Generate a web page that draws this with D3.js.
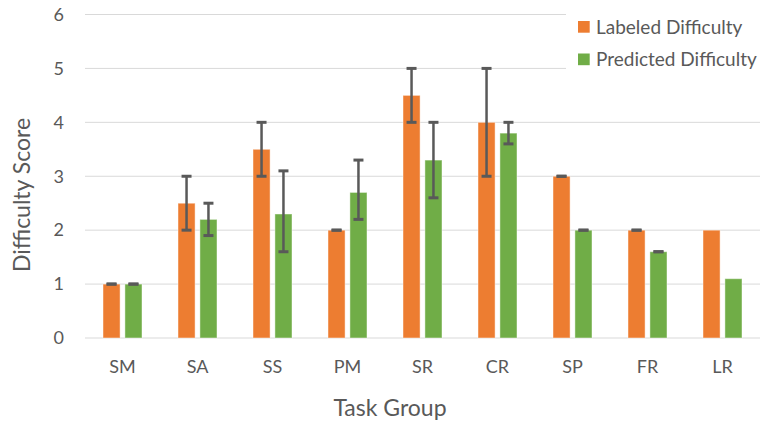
<!DOCTYPE html>
<html lang="en">
<head>
<meta charset="UTF-8">
<title>Difficulty Score by Task Group</title>
<script src="https://d3js.org/d3.v7.min.js"></script>
<style>
  body { margin: 0; background: #fff; }
  text { font-family: Lato, "Open Sans", sans-serif; fill: #595959; }
</style>
</head>
<body>
<svg id="chart" width="767" height="425"></svg>
<script>
const groups = ['SM', 'SA', 'SS', 'PM', 'SR', 'CR', 'SP', 'FR', 'LR'];
const seriesNames = ['Labeled Difficulty', 'Predicted Difficulty'];
const colors = ['#ed7d31', '#70ad47'];
const yTicks = [0, 1, 2, 3, 4, 5, 6];

const labeled = [1, 2.5, 3.5, 2, 4.5, 4, 3, 2, 2];
const labeledLow = [1, 2, 3, 2, 4, 3, 3, 2, null];
const labeledHigh = [1, 3, 4, 2, 5, 5, 3, 2, null];

const predicted = [1, 2.2, 2.3, 2.7, 3.3, 3.8, 2, 1.6, 1.1];
const predictedLow = [1, 1.9, 1.6, 2.2, 2.6, 3.6, 2, 1.6, null];
const predictedHigh = [1, 2.5, 3.1, 3.3, 4.0, 4.0, 2, 1.6, null];

const values = [labeled, predicted];
const lows = [labeledLow, predictedLow];
const highs = [labeledHigh, predictedHigh];

const svg = d3.select('#chart');
const plotLeft = 85, plotRight = 760, plotTop = 14.5, plotBottom = 338;

const x0 = d3.scaleBand().domain(groups).range([plotLeft, plotRight]);
const groupW = 39;
const x1 = d3.scaleBand().domain(seriesNames).range([0, groupW]).paddingInner(0.22);
const y = d3.scaleLinear().domain([0, 6]).range([plotBottom, plotTop]);

// gridlines
svg.append('g')
  .selectAll('line')
  .data(yTicks)
  .enter().append('line')
  .attr('x1', plotLeft).attr('x2', plotRight)
  .attr('y1', d => y(d)).attr('y2', d => y(d))
  .attr('stroke', '#d9d9d9').attr('stroke-width', 1);

// y tick labels
svg.append('g')
  .selectAll('text')
  .data(yTicks)
  .enter().append('text')
  .attr('x', 64).attr('y', d => y(d))
  .attr('dy', '0.35em')
  .attr('text-anchor', 'end')
  .attr('font-size', 18)
  .text(d => d);

// x tick labels
svg.append('g')
  .selectAll('text')
  .data(groups)
  .enter().append('text')
  .attr('x', d => x0(d) + x0.bandwidth() / 2)
  .attr('y', 367)
  .attr('dy', '0.35em')
  .attr('text-anchor', 'middle')
  .attr('font-size', 18)
  .text(d => d);

const off = (x0.bandwidth() - groupW) / 2;

seriesNames.forEach((s, si) => {
  const g = svg.append('g');
  g.selectAll('rect')
    .data(groups)
    .enter().append('rect')
    .attr('x', d => x0(d) + off + x1(s))
    .attr('width', x1.bandwidth())
    .attr('y', (d, i) => y(values[si][i]))
    .attr('height', (d, i) => y(0) - y(values[si][i]))
    .attr('fill', colors[si])
    .attr('stroke', '#fff').attr('stroke-opacity', 0.45).attr('stroke-width', 1);

  // error bars
  groups.forEach((d, i) => {
    const lo = lows[si][i], hi = highs[si][i];
    if (lo == null) return;
    const cx = x0(d) + off + x1(s) + x1.bandwidth() / 2;
    const eg = svg.append('g').attr('stroke', '#595959');
    eg.append('line')
      .attr('x1', cx).attr('x2', cx)
      .attr('y1', y(lo)).attr('y2', y(hi))
      .attr('stroke-width', 2.5);
    [lo, hi].forEach(v => {
      eg.append('line')
        .attr('x1', cx - 5).attr('x2', cx + 5)
        .attr('y1', y(v)).attr('y2', y(v))
        .attr('stroke-width', 3);
    });
  });
});

// legend
const legend = svg.append('g');
legend.append('rect')
  .attr('x', 566).attr('y', 6).attr('width', 201).attr('height', 70)
  .attr('fill', '#fff');
seriesNames.forEach((s, i) => {
  legend.append('rect')
    .attr('x', 578).attr('y', 21 + i * 32.5)
    .attr('width', 11.7).attr('height', 11.7)
    .attr('fill', colors[i]);
  legend.append('text')
    .attr('x', 596).attr('y', 27 + i * 32.5)
    .attr('dy', '0.35em')
    .attr('font-size', 19)
    .text(s);
});

// axis titles
svg.append('text')
  .attr('x', 390).attr('y', 408)
  .attr('dy', '0.35em')
  .attr('text-anchor', 'middle')
  .attr('font-size', 23)
  .text('Task Group');

svg.append('text')
  .attr('transform', 'translate(22,195) rotate(-90)')
  .attr('dy', '0.35em')
  .attr('text-anchor', 'middle')
  .attr('font-size', 23)
  .text('Difficulty Score');
</script>
</body>
</html>
